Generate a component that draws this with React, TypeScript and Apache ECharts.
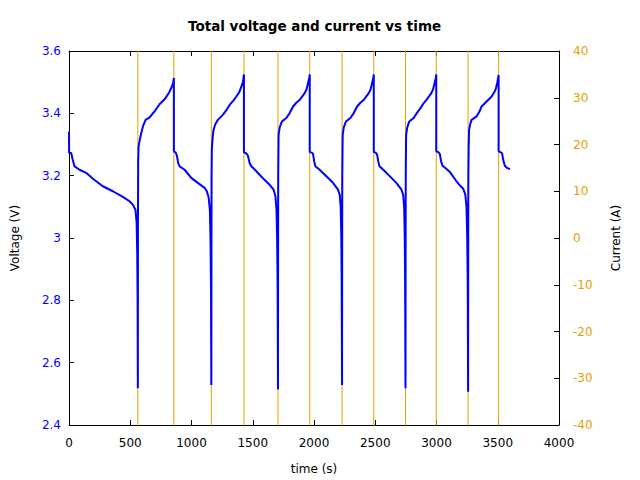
import React, { useEffect, useRef } from "react";
import * as echarts from "echarts";

const titleText = "Total voltage and current vs time";

// Voltage trace: time (s) and voltage (V)
const voltageTime: number[] = [
  0, 1, 18, 31, 45, 86, 140, 195, 276, 358, 440, 494, 521, 543, 552, 557, 560, 562,
  563, 565, 568, 578, 590, 605, 625, 658, 698, 739, 780, 815, 840, 850, 856,
  856, 870, 880, 892, 903, 944, 998, 1052, 1107, 1125, 1140, 1150, 1155, 1159, 1162,
  1163, 1164, 1166, 1172, 1180, 1195, 1215, 1256, 1285, 1311, 1340, 1366, 1390, 1407, 1420, 1428,
  1428, 1445, 1460, 1475, 1488, 1520, 1556, 1600, 1640, 1670, 1685, 1694, 1699, 1703, 1706,
  1707, 1708, 1711, 1720, 1738, 1774, 1800, 1829, 1855, 1883, 1924, 1940, 1951, 1960, 1965,
  1965, 1980, 1992, 2002, 2011, 2046, 2101, 2155, 2196, 2210, 2218, 2223, 2226, 2229,
  2230, 2231, 2234, 2243, 2261, 2297, 2323, 2352, 2378, 2406, 2447, 2463, 2474, 2483, 2488,
  2488, 2503, 2515, 2525, 2534, 2568, 2622, 2674, 2714, 2728, 2736, 2741, 2744, 2747,
  2748, 2749, 2752, 2761, 2778, 2813, 2838, 2866, 2891, 2918, 2958, 2973, 2984, 2993, 2998,
  2998, 3013, 3027, 3038, 3049, 3080, 3109, 3163, 3200, 3218, 3235, 3245, 3251, 3255, 3258,
  3259, 3260, 3263, 3266, 3275, 3286, 3327, 3350, 3368, 3409, 3450, 3475, 3485, 3497, 3507,
  3507, 3520, 3535, 3545, 3558, 3575, 3600,
];
const voltageV: number[] = [
  3.342, 3.273, 3.273, 3.25, 3.23, 3.219, 3.209, 3.19, 3.166, 3.15, 3.132, 3.118, 3.107, 3.09, 3.05, 2.95, 2.8, 2.518,
  3.05, 3.25, 3.294, 3.315, 3.337, 3.36, 3.379, 3.387, 3.406, 3.429, 3.445, 3.465, 3.486, 3.497, 3.513,
  3.278, 3.275, 3.265, 3.24, 3.23, 3.219, 3.193, 3.177, 3.161, 3.15, 3.13, 3.09, 3.0, 2.85, 2.528,
  3.0, 3.2, 3.283, 3.32, 3.347, 3.366, 3.379, 3.395, 3.41, 3.427, 3.44, 3.454, 3.468, 3.486, 3.5, 3.525,
  3.275, 3.272, 3.265, 3.24, 3.23, 3.218, 3.203, 3.185, 3.17, 3.155, 3.135, 3.09, 3.0, 2.85, 2.515,
  3.0, 3.2, 3.331, 3.355, 3.374, 3.385, 3.4, 3.422, 3.434, 3.443, 3.465, 3.478, 3.497, 3.51, 3.525,
  3.276, 3.274, 3.27, 3.245, 3.23, 3.219, 3.198, 3.177, 3.155, 3.139, 3.1, 3.0, 2.85, 2.528,
  3.0, 3.2, 3.33, 3.355, 3.374, 3.385, 3.4, 3.422, 3.434, 3.443, 3.465, 3.478, 3.497, 3.51, 3.525,
  3.276, 3.274, 3.268, 3.245, 3.23, 3.218, 3.197, 3.176, 3.155, 3.138, 3.1, 3.0, 2.85, 2.518,
  3.0, 3.2, 3.33, 3.355, 3.374, 3.385, 3.4, 3.415, 3.43, 3.443, 3.465, 3.478, 3.497, 3.51, 3.525,
  3.278, 3.276, 3.27, 3.245, 3.232, 3.222, 3.212, 3.182, 3.165, 3.158, 3.14, 3.1, 3.0, 2.85, 2.507,
  3.0, 3.2, 3.3, 3.347, 3.365, 3.379, 3.39, 3.405, 3.422, 3.438, 3.454, 3.47, 3.48, 3.5, 3.523,
  3.278, 3.276, 3.272, 3.25, 3.232, 3.225, 3.221,
];

// Current trace: step changes between discharge and charge (beyond the ±40 A view)
const currentTime: number[] = [
  0, 562, 562, 856, 856, 1162, 1162, 1428, 1428, 1706, 1706, 1965, 1965,
  2229, 2229, 2488, 2488, 2747, 2747, 2998, 2998, 3258, 3258, 3507, 3507, 3600,
];
const currentA: number[] = [
  -60, -60, 60, 60, -60, -60, 60, 60, -60, -60, 60, 60, -60,
  -60, 60, 60, -60, -60, 60, 60, -60, -60, 60, 60, -60, -60,
];

const xTicks = { min: 0, max: 4000, interval: 500 };
const vTicks = { min: 2.4, max: 3.6, interval: 0.2 };
const iTicks = { min: -40, max: 40, interval: 10 };

const BLUE = "#0000ff";
const ORANGE = "#e69f00";
const FONT = "DejaVu Sans";

export default function App() {
  const ref = useRef<HTMLDivElement>(null);
  useEffect(() => {
    if (!ref.current) return;
    const chart = echarts.init(ref.current, undefined, { renderer: "svg" });
    const vData = voltageTime.map((t, i) => [t, voltageV[i]]);
    const iData = currentTime.map((t, i) => [t, currentA[i]]);
    const axisLine = { show: true, onZero: false, lineStyle: { color: "#000", width: 1 } };
    const tick = { show: true, inside: true, length: 5, lineStyle: { color: "#000", width: 1 } };
    chart.setOption({
      animation: false,
      backgroundColor: "#fff",
      title: {
        text: titleText,
        left: 183,
        top: 14,
        textStyle: { fontFamily: FONT, fontSize: 13.5, fontWeight: "bold", color: "#000" },
      },
      grid: { left: 69, right: 81, top: 51, bottom: 54 },
      xAxis: [
        {
          type: "value",
          position: "bottom",
          ...xTicks,
          name: "time (s)",
          nameLocation: "middle",
          nameGap: 38,
          nameTextStyle: { fontFamily: FONT, fontSize: 12, color: "#000" },
          axisLine,
          axisTick: tick,
          splitLine: { show: false },
          axisLabel: {
            fontFamily: FONT,
            fontSize: 12,
            color: "#000",
            margin: 12,
            formatter: (v: number) => String(v),
          },
        },
        {
          type: "value",
          position: "top",
          ...xTicks,
          axisLine,
          axisTick: tick,
          splitLine: { show: false },
          axisLabel: { show: false },
        },
      ],
      yAxis: [
        {
          type: "value",
          position: "left",
          ...vTicks,
          name: "Voltage (V)",
          nameLocation: "middle",
          nameRotate: 90,
          nameGap: 48,
          nameTextStyle: { fontFamily: FONT, fontSize: 12, color: "#000" },
          axisLine,
          axisTick: tick,
          splitLine: { show: false },
          axisLabel: { fontFamily: FONT, fontSize: 12, color: BLUE, margin: 8 },
        },
        {
          type: "value",
          position: "right",
          ...iTicks,
          name: "Current (A)",
          nameLocation: "middle",
          nameRotate: 90,
          nameGap: 51,
          nameTextStyle: { fontFamily: FONT, fontSize: 12, color: "#000" },
          axisLine,
          axisTick: tick,
          splitLine: { show: false },
          axisLabel: { fontFamily: FONT, fontSize: 12, color: ORANGE, margin: 14 },
        },
      ],
      series: [
        {
          name: "Current",
          type: "line",
          xAxisIndex: 0,
          yAxisIndex: 1,
          data: iData,
          showSymbol: false,
          clip: true,
          lineStyle: { color: ORANGE, width: 1 },
          itemStyle: { color: ORANGE },
          z: 2,
        },
        {
          name: "Voltage",
          type: "line",
          xAxisIndex: 0,
          yAxisIndex: 0,
          data: vData,
          showSymbol: false,
          clip: true,
          lineStyle: { color: BLUE, width: 2 },
          itemStyle: { color: BLUE },
          z: 3,
        },
      ],
    });
    return () => chart.dispose();
  }, []);
  return <div ref={ref} style={{ width: 640, height: 480, position: "fixed", left: 0, top: 0 }} />;
}
